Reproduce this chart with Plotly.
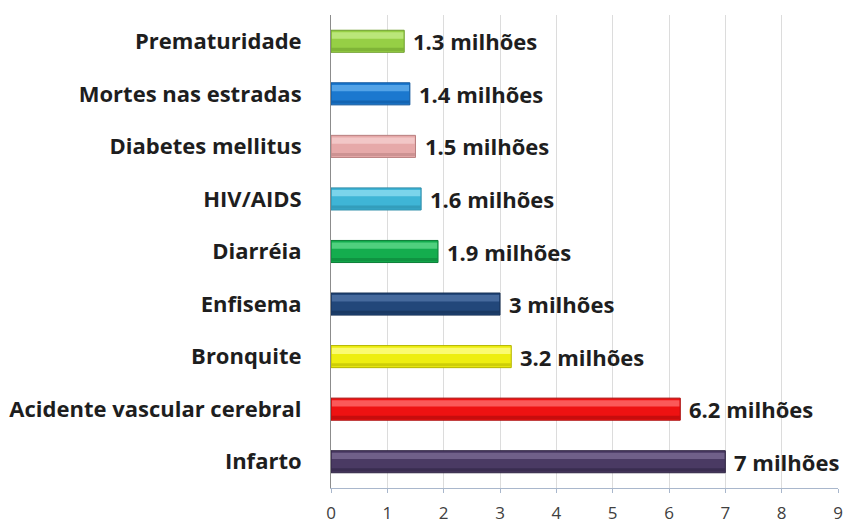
import plotly.graph_objects as go

# Causes of death, listed top to bottom, values in millions
causes = [
    "Prematuridade",
    "Mortes nas estradas",
    "Diabetes mellitus",
    "HIV/AIDS",
    "Diarréia",
    "Enfisema",
    "Bronquite",
    "Acidente vascular cerebral",
    "Infarto",
]
deaths_millions = [1.3, 1.4, 1.5, 1.6, 1.9, 3.0, 3.2, 6.2, 7.0]

# Bar colours: main fill, lighter top sheen, darker edge
fill_colors = ["#96cf45", "#1b78cf", "#e6a9a9", "#3fb5d6", "#14ad4e",
               "#22477a", "#eeee10", "#ee1212", "#4a3a63"]
sheen_colors = ["#c4ec86", "#62aeee", "#f6cfcf", "#8adcf1", "#5fd98b",
                "#4f73a6", "#ffff8a", "#ff6b6b", "#7a6a93"]
edge_colors = ["#6e9e2c", "#0f559a", "#b98080", "#2a8aa6", "#0c7e38",
               "#142e52", "#b5b500", "#a80a0a", "#2e2342"]

x_ticks = list(range(0, 10))

BAR_W = 0.42

fig = go.Figure()

# main body of each bar
fig.add_trace(go.Bar(
    x=deaths_millions, y=causes, orientation="h",
    width=BAR_W,
    marker=dict(color=fill_colors, line=dict(color=edge_colors, width=1)),
    hoverinfo="skip", showlegend=False,
))
# glossy highlight along the upper part
fig.add_trace(go.Bar(
    x=[v - 0.03 for v in deaths_millions], y=causes, orientation="h",
    width=0.12, offset=-BAR_W / 2 + 0.04, base=0.015,
    marker=dict(color=sheen_colors, line=dict(width=0)),
    opacity=0.8,
    hoverinfo="skip", showlegend=False,
))
# darker shading along the lower edge
fig.add_trace(go.Bar(
    x=[v - 0.02 for v in deaths_millions], y=causes, orientation="h",
    width=0.06, offset=BAR_W / 2 - 0.085, base=0.01,
    marker=dict(color=edge_colors, line=dict(width=0)),
    opacity=0.55,
    hoverinfo="skip", showlegend=False,
))

# value labels next to each bar
for cause, value in zip(causes, deaths_millions):
    fig.add_annotation(
        x=value, y=cause, text=f"{value:g} milhões",
        xanchor="left", yanchor="middle", xshift=7,
        showarrow=False,
        font=dict(family="Open Sans", size=22, color="#1e1e1e", weight="bold"),
    )

fig.update_layout(
    width=847, height=525,
    margin=dict(l=331, r=9, t=15, b=37),
    paper_bgcolor="white", plot_bgcolor="white",
    barmode="overlay",
    xaxis=dict(
        range=[0, 9], tickvals=x_ticks, ticktext=[str(t) for t in x_ticks],
        automargin=False,
        showgrid=True, gridcolor="#dcdcdc", gridwidth=1,
        zeroline=False,
        showline=True, linecolor="#a9b7cc", linewidth=1,
        ticks="outside", ticklen=4, tickcolor="#a9b7cc",
        ticklabelstandoff=6,
        tickfont=dict(family="Open Sans", size=17, color="#404040"),
    ),
    yaxis=dict(
        autorange="reversed", automargin=False,
        showgrid=False, zeroline=False,
        showline=True, linecolor="#8c8c8c", linewidth=1,
        ticks="", ticklabelstandoff=24,
        tickfont=dict(family="Open Sans", size=22, color="#1e1e1e", weight="bold"),
    ),
)

fig.write_html("out.html")
